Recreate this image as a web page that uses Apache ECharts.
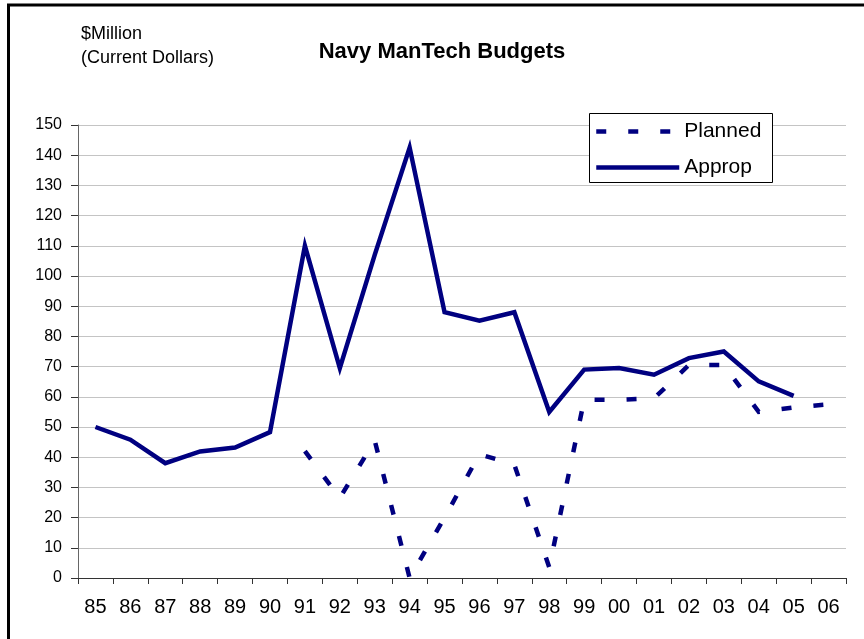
<!DOCTYPE html>
<html>
<head>
<meta charset="utf-8">
<script src="https://cdn.jsdelivr.net/npm/echarts@6/dist/echarts.min.js"></script>
<style>
html,body{margin:0;padding:0;background:#fff;}
#chart{width:864px;height:639px;}
</style>
</head>
<body>
<div id="chart"></div>
<script>
const years = ['85','86','87','88','89','90','91','92','93','94','95','96','97','98','99','00','01','02','03','04','05','06'];
const planned = [null,null,null,null,null,null,42,26.5,45.5,0,20,41,37.5,3.5,59,59,59.5,70.5,70.5,55,56.5,57.5];
const approp = [50,45.8,38,41.9,43.2,48.3,110,69.5,107,142.5,88,85.2,88,55,69,69.5,67.3,72.8,75,65.1,60.3,null];
const yTicks = {min:0, max:150, interval:10};

const FONT = '"Liberation Sans", Arial, sans-serif';
const NAVY = '#000080';
const chart = echarts.init(document.getElementById('chart'), null, {renderer:'canvas'});
chart.setOption({
  backgroundColor:'#ffffff',
  animation:false,
  graphic:[
    {type:'rect', shape:{x:8.5, y:5, width:900, height:700}, style:{fill:'none', stroke:'#000', lineWidth:3}, z:0},
    {type:'rect', shape:{x:589.5, y:113.5, width:183, height:69}, style:{fill:'#fff', stroke:'#000', lineWidth:1}, z:5},
    {type:'text', left:81, top:25, style:{text:'$Million', font:'18px '+FONT, fill:'#000'}},
    {type:'text', left:81, top:49, style:{text:'(Current Dollars)', font:'18px '+FONT, fill:'#000'}}
  ],
  title:{
    text:'Navy ManTech Budgets',
    left:437, top:36, textAlign:'center',
    textStyle:{fontFamily:FONT, fontWeight:'bold', fontSize:22, color:'#000'}
  },
  legend:{
    orient:'vertical', left:594, top:121, z:10, padding:0,
    itemWidth:83, itemHeight:14, itemGap:15,
    textStyle:{fontFamily:FONT, fontSize:21, color:'#000', lineHeight:20},
    itemStyle:{opacity:0},
    lineStyle:{width:4.5},
    data:['Planned','Approp']
  },
  grid:{left:78, right:18, top:125, bottom:61, containLabel:false},
  xAxis:{
    type:'category', data:years, boundaryGap:true,
    axisLine:{show:true, lineStyle:{color:'#333', width:1}},
    axisTick:{show:true, alignWithLabel:false, length:6, lineStyle:{color:'#333'}},
    axisLabel:{fontFamily:FONT, fontSize:20, color:'#000', margin:19, interval:0},
    splitLine:{show:false}
  },
  yAxis:{
    type:'value', min:yTicks.min, max:yTicks.max, interval:yTicks.interval,
    axisLine:{show:true, lineStyle:{color:'#666', width:1}},
    axisTick:{show:true, length:7, lineStyle:{color:'#333'}},
    axisLabel:{fontFamily:FONT, fontSize:16, color:'#000', margin:16},
    splitLine:{show:true, lineStyle:{color:'#c4c4c4', width:1}}
  },
  series:[
    {name:'Planned', type:'line', data:planned, symbol:'none', showSymbol:false,
     lineStyle:{color:NAVY, width:4.5, type:[10,22], cap:'butt', join:'miter'}, itemStyle:{color:NAVY}, z:3},
    {name:'Approp', type:'line', data:approp, symbol:'none', showSymbol:false,
     lineStyle:{color:NAVY, width:4.5, type:'solid', join:'miter'}, itemStyle:{color:NAVY}, z:4}
  ]
});
</script>
</body>
</html>
